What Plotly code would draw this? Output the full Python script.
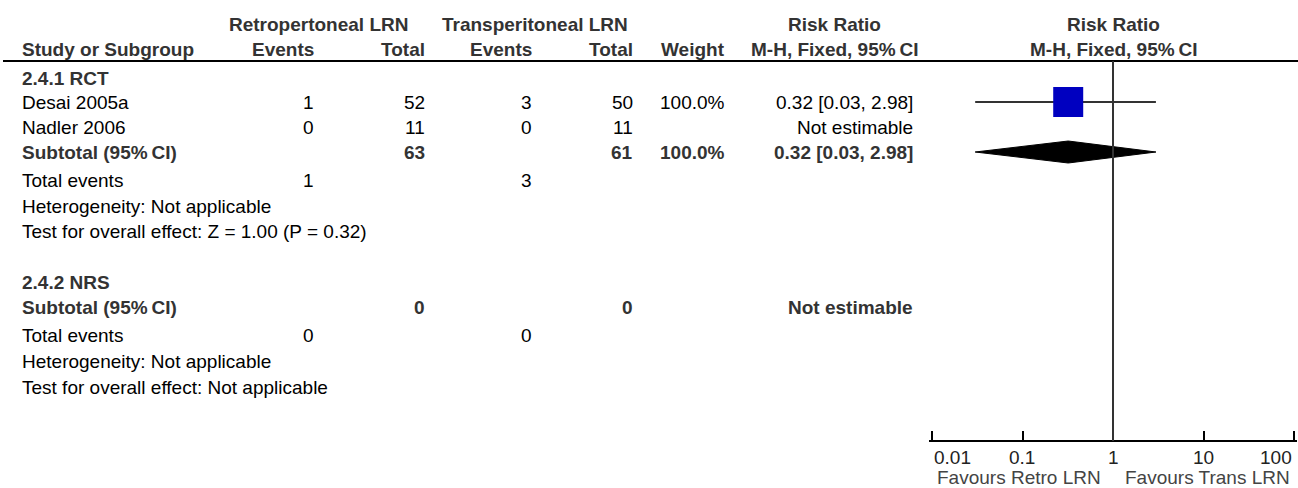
import math
import plotly.graph_objects as go

# ---- data -------------------------------------------------------------
study_names = ["Desai 2005a", "Nadler 2006"]
retro_events = [1, 0]
retro_total = [52, 11]
trans_events = [3, 0]
trans_total = [50, 11]
study_weight = ["100.0%", ""]
study_rr = [0.32, None]
study_lo = [0.03, None]
study_hi = [2.98, None]

rct_sub_retro_total = 63
rct_sub_trans_total = 61
rct_sub_weight = "100.0%"
rct_sub_rr = 0.32
rct_sub_lo = 0.03
rct_sub_hi = 2.98
rct_events = [1, 3]
rct_z, rct_p = 1.00, 0.32

nrs_sub_retro_total = 0
nrs_sub_trans_total = 0
nrs_events = [0, 0]

tick_values = [0.01, 0.1, 1, 10, 100]
tick_labels = ["0.01", "0.1", "1", "10", "100"]
favours_left = "Favours Retro LRN"
favours_right = "Favours Trans LRN"

# ---- layout constants (pixels) -------------------------------------
W, H = 1298, 488
FONT = "Liberation Sans, Arial, sans-serif"
FS = 19
FS_AXIS = 19
BOLD_C = "#333333"
TEXT_C = "#000000"

X_LEFT = 20
X_RE = 316      # right edge, retro events
X_RT = 427      # right edge, retro total
X_TE = 534      # right edge, trans events
X_TT = 635      # right edge, trans total
X_W = 727       # right edge, weight
X_RR = 915      # right edge, risk ratio text
X_RR_HEAD = 834
X_PLOT_L, X_PLOT_R = 932, 1294     # pixel span of 0.01 .. 100
LOG_MIN, LOG_MAX = -2, 2
PAD = 0.03                          # small range padding so end ticks stay drawn
Y_HEAD1, Y_HEAD2, Y_RULE = 24, 49, 61
Y_AXIS = 441
Y_TICKLAB = 457
Y_FAVOURS = 477

rows = {
    "rct": 78, "desai": 102, "nadler": 127, "rct_sub": 152,
    "rct_tot": 180, "rct_het": 206, "rct_test": 231,
    "nrs": 282, "nrs_sub": 307, "nrs_tot": 335, "nrs_het": 361, "nrs_test": 387,
}
study_rows = [rows["desai"], rows["nadler"]]

annotations = []


def txt(x, y, s, anchor="left", bold=False, color=None, size=FS, xref="paper"):
    annotations.append(dict(
        x=x / W if xref == "paper" else x, y=y, xref=xref, yref="y",
        text=f"<b>{s}</b>" if bold else s, showarrow=False,
        xanchor=anchor, yanchor="middle",
        font=dict(family=FONT, size=size,
                  color=color or (BOLD_C if bold else TEXT_C)),
    ))


# header
txt(318, Y_HEAD1, "Retropertoneal LRN", "center", True)
txt(535, Y_HEAD1, "Transperitoneal LRN", "center", True)
txt(X_RR_HEAD, Y_HEAD1, "Risk Ratio", "center", True)
txt(1113, Y_HEAD1, "Risk Ratio", "center", True)
txt(X_LEFT, Y_HEAD2, "Study or Subgroup", "left", True)
txt(X_RE, Y_HEAD2, "Events", "right", True)
txt(X_RT, Y_HEAD2, "Total", "right", True)
txt(X_TE, Y_HEAD2, "Events", "right", True)
txt(X_TT, Y_HEAD2, "Total", "right", True)
txt(X_W, Y_HEAD2, "Weight", "right", True)
txt(X_RR_HEAD, Y_HEAD2, "M-H, Fixed, 95%\u2009CI", "center", True)
txt(1113, Y_HEAD2, "M-H, Fixed, 95%\u2009CI", "center", True)

# subgroup 2.4.1
txt(X_LEFT, rows["rct"], "2.4.1 RCT", "left", True)
for i, name in enumerate(study_names):
    y = study_rows[i]
    txt(X_LEFT, y, name)
    txt(X_RE, y, str(retro_events[i]), "right")
    txt(X_RT, y, str(retro_total[i]), "right")
    txt(X_TE, y, str(trans_events[i]), "right")
    txt(X_TT, y, str(trans_total[i]), "right")
    if study_weight[i]:
        txt(X_W, y, study_weight[i], "right")
    if study_rr[i] is not None:
        txt(X_RR, y, f"{study_rr[i]:.2f} [{study_lo[i]:.2f}, {study_hi[i]:.2f}]", "right")
    else:
        txt(X_RR, y, "Not estimable", "right")

y = rows["rct_sub"]
txt(X_LEFT, y, "Subtotal (95%\u2009CI)", "left", True)
txt(X_RT, y, str(rct_sub_retro_total), "right", True)
txt(X_TT, y, str(rct_sub_trans_total), "right", True)
txt(X_W, y, rct_sub_weight, "right", True)
txt(X_RR, y, f"{rct_sub_rr:.2f} [{rct_sub_lo:.2f}, {rct_sub_hi:.2f}]", "right", True)
txt(X_LEFT, rows["rct_tot"], "Total events")
txt(X_RE, rows["rct_tot"], str(rct_events[0]), "right")
txt(X_TE, rows["rct_tot"], str(rct_events[1]), "right")
txt(X_LEFT, rows["rct_het"], "Heterogeneity: Not applicable")
txt(X_LEFT, rows["rct_test"], f"Test for overall effect: Z = {rct_z:.2f} (P = {rct_p:.2f})")

# subgroup 2.4.2
txt(X_LEFT, rows["nrs"], "2.4.2 NRS", "left", True)
y = rows["nrs_sub"]
txt(X_LEFT, y, "Subtotal (95%\u2009CI)", "left", True)
txt(X_RT, y, str(nrs_sub_retro_total), "right", True)
txt(X_TT, y, str(nrs_sub_trans_total), "right", True)
txt(X_RR, y, "Not estimable", "right", True)
txt(X_LEFT, rows["nrs_tot"], "Total events")
txt(X_RE, rows["nrs_tot"], str(nrs_events[0]), "right")
txt(X_TE, rows["nrs_tot"], str(nrs_events[1]), "right")
txt(X_LEFT, rows["nrs_het"], "Heterogeneity: Not applicable")
txt(X_LEFT, rows["nrs_test"], "Test for overall effect: Not applicable")

# axis tick labels (log axis: annotation x is given in log10 units)
for i, (v, lab) in enumerate(zip(tick_values, tick_labels)):
    anchor = "left" if i == 0 else ("right" if i == len(tick_values) - 1 else "center")
    txt(math.log10(v), Y_TICKLAB, lab, anchor, color="#222222", size=FS_AXIS, xref="x")
txt(1103, Y_FAVOURS, favours_left, "right", color="#444444", size=FS_AXIS)
txt(1123, Y_FAVOURS, favours_right, "left", color="#444444", size=FS_AXIS)

fig = go.Figure()

# confidence interval lines and study squares
for i in range(len(study_names)):
    if study_rr[i] is None:
        continue
    fig.add_trace(go.Scatter(
        x=[study_lo[i], study_hi[i]], y=[study_rows[i], study_rows[i]],
        mode="lines", line=dict(color="#333333", width=2), hoverinfo="skip"))
    fig.add_trace(go.Scatter(
        x=[study_rr[i]], y=[study_rows[i]], mode="markers",
        marker=dict(symbol="square", size=30, color="#0000c0",
                    line=dict(width=0)), hoverinfo="skip"))

# pooled diamond
yd = rows["rct_sub"]
half = 11
fig.add_trace(go.Scatter(
    x=[rct_sub_lo, rct_sub_rr, rct_sub_hi, rct_sub_rr, rct_sub_lo],
    y=[yd, yd - half, yd, yd + half, yd],
    mode="lines", fill="toself", fillcolor="#000000",
    line=dict(color="#000000", width=1), hoverinfo="skip"))

shapes = [
    dict(type="line", xref="paper", yref="y", x0=3 / W, x1=1, y0=Y_RULE, y1=Y_RULE,
         line=dict(color="#000000", width=2)),
    dict(type="line", xref="x", yref="y", x0=1, x1=1, y0=Y_RULE, y1=Y_AXIS,
         line=dict(color="#333333", width=2)),
]

px_per_dec = (X_PLOT_R - X_PLOT_L) / (LOG_MAX - LOG_MIN)
dom_l = (X_PLOT_L - PAD * px_per_dec) / W
dom_r = (X_PLOT_R + PAD * px_per_dec) / W

fig.update_layout(
    width=W, height=H, margin=dict(l=0, r=0, t=0, b=0),
    paper_bgcolor="white", plot_bgcolor="white", showlegend=False,
    annotations=annotations, shapes=shapes,
    xaxis=dict(type="log", range=[LOG_MIN - PAD, LOG_MAX + PAD],
               domain=[dom_l, dom_r],
               anchor="free", position=1 - Y_AXIS / H,
               showline=True, linecolor="#000000", linewidth=2,
               ticks="inside", ticklen=9, tickwidth=2, tickcolor="#000000",
               tickvals=tick_values, showticklabels=False,
               showgrid=False, zeroline=False, fixedrange=True),
    yaxis=dict(range=[H, 0], domain=[0, 1], visible=False,
               showgrid=False, zeroline=False, fixedrange=True),
)

fig.write_html("out.html")
